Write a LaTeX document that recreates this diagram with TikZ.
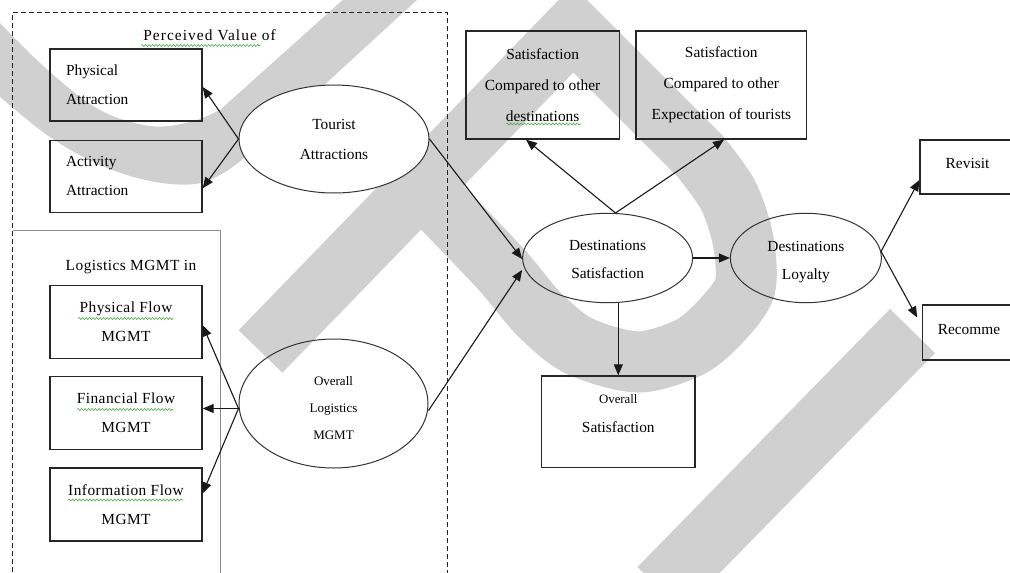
\documentclass[tikz,border=0pt]{standalone}
\usepackage{fontspec}
\setmainfont{Liberation Serif}
\newfontfamily\spacedfont[LetterSpace=7]{Liberation Serif}
\newfontfamily\slightfont[LetterSpace=3]{Liberation Serif}
\usetikzlibrary{arrows.meta,shapes.geometric,decorations.pathmorphing}
\definecolor{wmgray}{RGB}{208,208,208}
\definecolor{squiggle}{RGB}{70,170,70}
\newcommand\mainsize{\fontsize{15.4}{29}\selectfont}
\newcommand\smallsize{\fontsize{13}{27}\selectfont}
\newcommand\lift[1]{\rule{0pt}{#1}}
\tikzset{
  box/.style={draw=black!85, line width=1.3pt, rectangle, inner sep=0pt, font=\mainsize, align=center},
  oval/.style={draw=black!80, line width=1pt, ellipse, inner sep=0pt, font=\mainsize, align=center},
  conn/.style={line width=1.1pt, draw=black!90, -{Triangle[length=11pt,width=9pt]}},
  squig/.style={draw=squiggle, line width=0.6pt, decorate, decoration={snake, amplitude=1pt, segment length=3.5pt}},
  frame/.style={line width=1pt, dash pattern=on 5pt off 3pt, draw=black!85},
  subframe/.style={line width=1pt, draw=black!45},
  lbl/.style={font=\mainsize, inner sep=0pt},
}
\begin{document}
\begin{tikzpicture}[x=1pt,y=-1pt]
\useasboundingbox (0,0) rectangle (1010,573);
% watermark
\begin{scope}
\clip (0,0) rectangle (1010,573);
\fill[wmgray] plot[smooth, tension=0.6] coordinates {(-10,88) (0,97) (50,137) (100,165) (150,181) (195,184) (225,172) (250,153)}
  -- (430,-12) -- (356,-12)
  -- plot[smooth, tension=0.6] coordinates {(220,110) (190,122) (150,126) (100,110) (50,72) (0,23) (-15,5)} -- cycle;
\draw[wmgray, line width=61pt, line join=miter] (260.5,351.5) -- (573,29) -- (700,156)
  -- plot[smooth] coordinates {(700,156) (728,195) (743,240) (745,287) (722,320) (690,347) (638,362) (579,346) (539,314) (500,268) (430,195)};
\draw[wmgray, line width=63pt] (912.5,331) -- (660,589);
\end{scope}
% frames
\draw[subframe] (12.5,230) -- (220,230) -- (220,580);
\draw[frame] (12.5,580) -- (12.5,12.5) -- (447.5,12.5) -- (447.5,580);
% left group
\node[lbl, font=\spacedfont\mainsize] (pv) at (209.5,35) {Perceived Value of};
\node[box, minimum width=152pt, minimum height=72pt, text width=120pt, align=left] (pa) at (126,85) {Physical\\Attraction};
\node[box, minimum width=152pt, minimum height=72pt, text width=120pt, align=left] (aa) at (126,176.3) {Activity\\Attraction};
\node[oval, fill=white, minimum width=190pt, minimum height=108pt, font=\fontsize{15.4}{30}\selectfont] (ta) at (334,139) {Tourist\\Attractions};
\node[lbl, font=\slightfont\mainsize] (lm) at (131,267) {Logistics MGMT in};
\node[box, minimum width=152pt, minimum height=73pt, font=\slightfont\mainsize] (pf) at (126,321.7) {Physical Flow\\MGMT};
\node[box, minimum width=152pt, minimum height=73pt, font=\slightfont\mainsize] (ff) at (126,412.7) {Financial Flow\\MGMT};
\node[box, minimum width=152pt, minimum height=73pt, font=\slightfont\mainsize] (inf) at (126,504.4) {Information Flow\\MGMT};
\node[oval, minimum width=189pt, minimum height=129pt, font=\smallsize] (ol) at (333.5,403.5) {\lift{18pt}Overall\\Logistics\\MGMT};
% right group
\node[oval, minimum width=170pt, minimum height=89.4pt, font=\fontsize{15.4}{28}\selectfont] (ds) at (607.6,258) {\lift{13.5pt}Destinations\\Satisfaction};
\node[oval, minimum width=151pt, minimum height=89.4pt, font=\fontsize{15.4}{28}\selectfont] (dl) at (805.9,258) {\lift{17.5pt}Destinations\\Loyalty};
\node[box, minimum width=153.5pt, minimum height=108pt, font=\fontsize{15.4}{31}\selectfont] (s1) at (542.6,85) {Satisfaction\\Compared to other\\destinations};
\node[box, minimum width=170.6pt, minimum height=108pt, font=\fontsize{15.4}{31}\selectfont] (s2) at (721.3,85) {Satisfaction\\Compared to other\\Expectation of tourists};
\node[box, minimum width=153.2pt, minimum height=91.7pt] (os) at (618.3,421.8) {};
\node[lbl, align=center] (ost) at (618.3,414) {{\fontsize{12.8}{28.7}\selectfont Overall}\\Satisfaction};
\node[box, minimum width=95pt, minimum height=54pt, text depth=7pt] (rv) at (967.5,167) {Revisit};
\node[box, minimum width=92.4pt, minimum height=55pt, text depth=7pt] (rc) at (969,332.5) {Recomme};
% squiggly underlines
\draw[squig] (141,45.5) -- (260,45.5);
\draw[squig] (78,318.5) -- (173,318.5);
\draw[squig] (77,409.5) -- (173,409.5);
\draw[squig] (68,500) -- (183,500);
\draw[squig] (506,124) -- (581,124);
% connectors
\draw[conn] (ta.west) -- ([yshift=-2pt]pa.east);
\draw[conn] (ta.west) -- ([yshift=-12pt]aa.east);
\coordinate (olw) at ([yshift=-5pt]ol.west);
\draw[conn] (olw) -- ([yshift=-3.5pt]pf.east);
\draw[conn] (olw) -- (olw -| ff.east);
\draw[conn] (olw) -- ([yshift=11pt]inf.east);
\draw[conn] (ta.east) -- ([yshift=-1pt]ds.west);
\draw[conn] ([yshift=-7pt]ol.east) -- ([yshift=-12pt]ds.west);
\draw[conn] (ds.80) -- ([xshift=-16.6pt]s1.south);
\draw[conn] (ds.80) -- ([xshift=2.7pt]s2.south);
\draw[conn] (ds.east) -- (dl.west);
\draw[conn] (ds.south -| os.north) -- (os.north);
\draw[conn] (dl.5) -- ([yshift=-13pt]rv.west);
\draw[conn] (dl.5) -- ([xshift=-5pt,yshift=15pt]rc.west);
\end{tikzpicture}
\end{document}
